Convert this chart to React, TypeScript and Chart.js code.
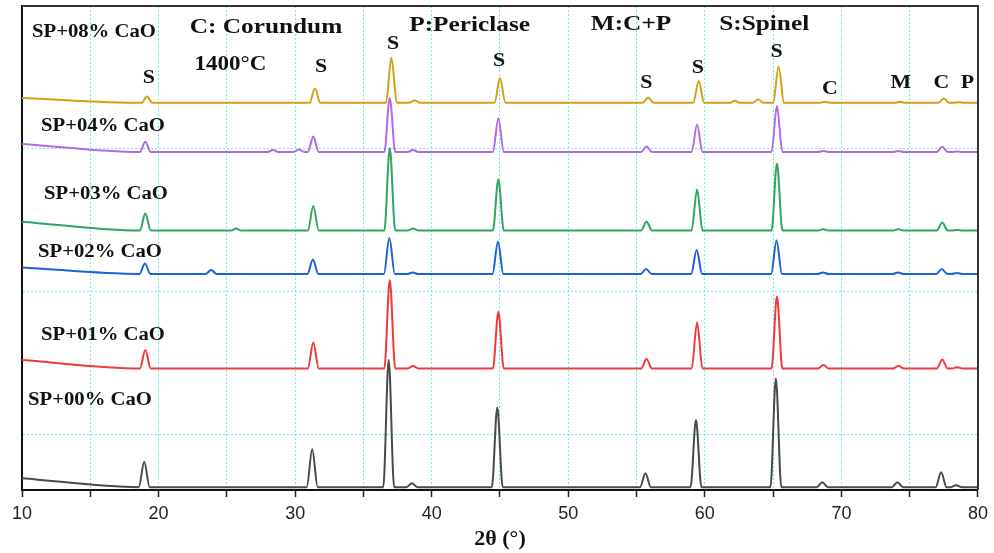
import React, { useEffect, useRef } from "react";
import { Chart, registerables } from "chart.js";

Chart.register(...registerables);

// Reflection positions (2θ, degrees) shared by all patterns
const twoTheta = [18.95, 23.8, 25.6, 28.3, 30.2, 31.25, 36.85, 38.55, 44.8, 55.65, 59.35, 62.0, 63.7, 65.2, 68.6, 74.1, 77.3, 78.4];

// Sample names, bottom to top
const samples = ["SP+00% CaO", "SP+01% CaO", "SP+02% CaO", "SP+03% CaO", "SP+04% CaO", "SP+08% CaO"];

// Background level at 2θ = 10° and flat background level (offset intensity, a.u.)
const bgStart = [-305, 522, 1170, 1490, 2034, 2356];
const bgLevel = [-368, 462, 1124, 1428, 1978, 2322];

// Small zero shift of each pattern (degrees)
const zeroShift = [0, 0.08, 0.05, 0.08, 0.08, 0.2];

// Peak apex intensities (offset, a.u.) at each 2θ position; null = no reflection
const peaks00 = [-190, null, null, null, null, -103, 522, -340, 189, -270, 102, null, null, 392, -333, -333, -263, -354];
const peaks01 = [592, null, null, null, null, 645, 1082, 480, 858, 529, 785, null, null, 966, 487, 481, 526, 471];
const peaks02 = [1197, 1152, null, null, null, 1226, 1376, 1135, 1350, 1159, 1292, null, null, 1358, 1135, 1135, 1159, 1131];
const peaks03 = [1547, null, 1442, null, null, 1600, 2006, 1443, 1786, 1490, 1716, null, null, 1898, 1438, 1438, 1485, 1432];
const peaks04 = [2050, null, null, 1992, 1996, 2087, 2356, 1992, 2213, 2017, 2170, null, null, 2300, 1985, 1985, 2015, 1981];
const peaks08 = [2366, null, null, null, null, 2423, 2636, 2341, 2496, 2360, 2475, 2337, 2346, 2575, 2330, 2330, 2353, 2327];
const peakTable = [peaks00, peaks01, peaks02, peaks03, peaks04, peaks08];

const colors = ["#4a4a4a", "#f03a3a", "#1c62dc", "#2fa563", "#b469e4", "#d3a012"];

// Sample label anchors (left edge 2θ, intensity)
const sampleLabelTheta = [10.44, 11.39, 11.17, 11.61, 11.39, 10.73];
const sampleLabelY = [242, 697, 1273, 1684, 2160, 2818];

// Phase legend texts and anchors
const legendTexts = ["C: Corundum", "P:Periclase", "M:C+P", "S:Spinel", "1400°C"];
const legendTheta = [22.28, 38.35, 51.65, 61.05, 22.64];
const legendY = [2849, 2867, 2874, 2874, 2587];

// Phase marks above the top pattern
const markTexts = ["S", "S", "S", "S", "S", "S", "S", "C", "M", "C", "P"];
const markTheta = [19.28, 31.9, 37.18, 44.93, 55.72, 59.49, 65.26, 69.16, 74.35, 77.32, 79.22];
const markY = [2496, 2573, 2734, 2615, 2461, 2566, 2678, 2419, 2461, 2461, 2461];

const xTicks = [10, 20, 30, 40, 50, 60, 70, 80];
const yGrid = [0, 1000, 2000];

const HALF_WIDTH = 0.4;
const STRETCH = 1.15;
const SERIF = '"Liberation Serif", "Times New Roman", serif';

function buildPattern(i: number) {
  const pts: { x: number; y: number }[] = [{ x: 10, y: bgStart[i] }];
  const heights = peakTable[i];
  twoTheta.forEach((t, k) => {
    const h = heights[k];
    if (h === null) return;
    const c = t + zeroShift[i];
    pts.push({ x: c - HALF_WIDTH, y: bgLevel[i] });
    pts.push({ x: c, y: h });
    pts.push({ x: c + HALF_WIDTH, y: bgLevel[i] });
  });
  pts.push({ x: 80, y: bgLevel[i] });
  return pts;
}

const textPlugin = {
  id: "xrdText",
  afterDatasetsDraw(chart: any) {
    const { ctx, scales, chartArea } = chart;
    const x = scales.x;
    const y = scales.y;
    const draw = (text: string, tx: number, ty: number, size: number, align: CanvasTextAlign) => {
      const px = x.getPixelForValue(tx);
      const py = y.getPixelForValue(ty);
      ctx.save();
      ctx.translate(px, py);
      ctx.scale(STRETCH, 1);
      ctx.font = `bold ${size}px ${SERIF}`;
      ctx.fillStyle = "#111";
      ctx.textAlign = align;
      ctx.textBaseline = "middle";
      ctx.fillText(text, 0, 0);
      ctx.restore();
    };
    samples.forEach((s, i) => draw(s, sampleLabelTheta[i], sampleLabelY[i], 18, "left"));
    legendTexts.forEach((s, i) => draw(s, legendTheta[i], legendY[i], i === 4 ? 20 : 22, "left"));
    markTexts.forEach((s, i) => draw(s, markTheta[i], markY[i], 19, "center"));

    // top and right frame lines
    ctx.save();
    ctx.strokeStyle = "#333";
    ctx.lineWidth = 2;
    ctx.beginPath();
    ctx.moveTo(chartArea.left, chartArea.top);
    ctx.lineTo(chartArea.right, chartArea.top);
    ctx.lineTo(chartArea.right, chartArea.bottom);
    ctx.stroke();
    ctx.restore();
  },
};

export default function App() {
  const canvasRef = useRef<HTMLCanvasElement | null>(null);

  useEffect(() => {
    const canvas = canvasRef.current;
    if (!canvas) return;
    const chart = new Chart(canvas, {
      type: "line",
      data: {
        datasets: samples.map((s, i) => ({
          label: s,
          data: buildPattern(i),
          borderColor: colors[i],
          borderWidth: 2,
          pointRadius: 0,
          cubicInterpolationMode: "monotone" as const,
          borderJoinStyle: "round" as const,
          fill: false,
        })),
      },
      options: {
        responsive: false,
        animation: false,
        devicePixelRatio: 1,
        layout: { padding: { left: 22, right: 14, top: 6, bottom: 0 } },
        plugins: { legend: { display: false }, tooltip: { enabled: false } },
        scales: {
          x: {
            type: "linear",
            min: 10,
            max: 80,
            afterFit: (scale: any) => {
              scale.height = 63;
            },
            ticks: {
              stepSize: 5,
              autoSkip: false,
              maxRotation: 0,
              padding: 6,
              color: "#222",
              font: { family: '"Liberation Sans", Arial, sans-serif', size: 18 },
              callback: (v: any) => (xTicks.includes(Number(v)) ? String(v) : ""),
            },
            grid: {
              color: "rgba(60, 225, 240, 0.75)",
              lineWidth: 1,
              tickColor: "#222",
              tickLength: 7,
              tickWidth: 1.5,
              tickBorderDash: [],
            },
            border: { display: true, color: "#111", width: 2, dash: [2, 2] },
            title: {
              display: true,
              text: "2θ (°)",
              color: "#111",
              font: { family: SERIF, size: 22, weight: "bold" },
              padding: { top: 0, bottom: 0 },
            },
          },
          y: {
            type: "linear",
            min: -388,
            max: 3000,
            afterFit: (scale: any) => {
              scale.width = 0;
            },
            afterBuildTicks: (scale: any) => {
              scale.ticks = yGrid.map((v) => ({ value: v }));
            },
            ticks: { display: false },
            grid: {
              color: "rgba(60, 225, 240, 0.75)",
              lineWidth: 1,
              drawTicks: false,
            },
            border: { display: true, color: "#111", width: 2, dash: [2, 2] },
          },
        },
      },
      plugins: [textPlugin],
    });
    return () => chart.destroy();
  }, []);

  return (
    <div style={{ position: "absolute", left: 0, top: 0, width: 994, height: 553, background: "#fff" }}>
      <canvas ref={canvasRef} width={994} height={553} />
    </div>
  );
}
